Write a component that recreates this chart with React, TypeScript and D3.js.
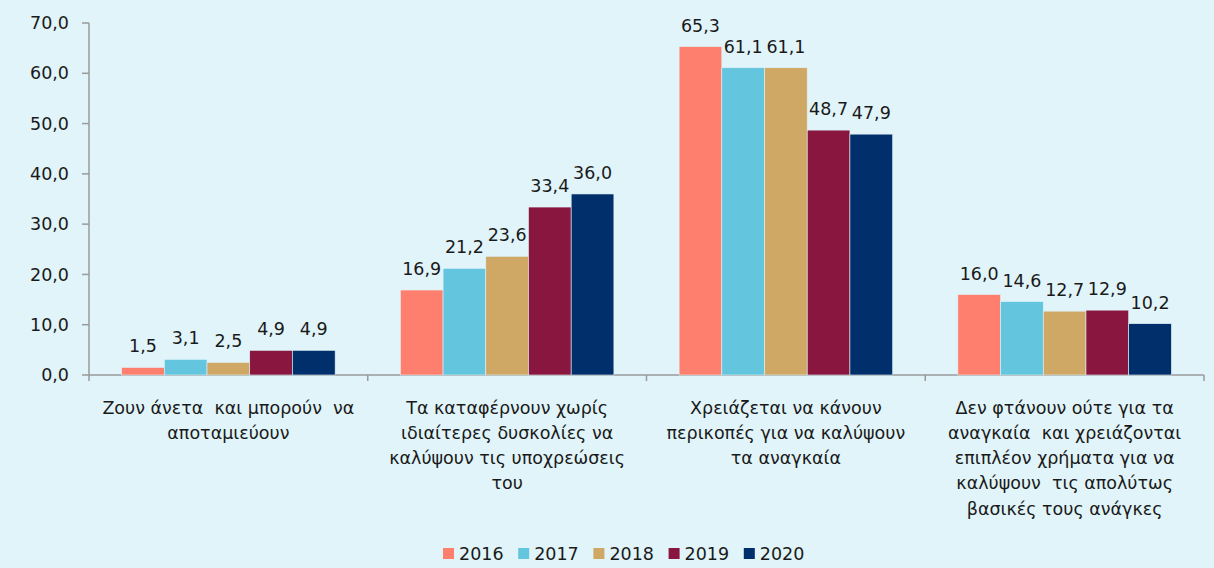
import React from "react";
import * as d3 from "d3";

const categories = [
  "Ζουν άνετα  και μπορούν  να\nαποταμιεύουν",
  "Τα καταφέρνουν χωρίς\nιδιαίτερες δυσκολίες να\nκαλύψουν τις υποχρεώσεις\nτου",
  "Χρειάζεται να κάνουν\nπερικοπές για να καλύψουν\nτα αναγκαία",
  "Δεν φτάνουν ούτε για τα\nαναγκαία  και χρειάζονται\nεπιπλέον χρήματα για να\nκαλύψουν  τις απολύτως\nβασικές τους ανάγκες",
];
const years = ["2016", "2017", "2018", "2019", "2020"];
const v2016 = [1.5, 16.9, 65.3, 16.0];
const v2017 = [3.1, 21.2, 61.1, 14.6];
const v2018 = [2.5, 23.6, 61.1, 12.7];
const v2019 = [4.9, 33.4, 48.7, 12.9];
const v2020 = [4.9, 36.0, 47.9, 10.2];
const series = [v2016, v2017, v2018, v2019, v2020];
const colors = ["#FF7F6F", "#63C6DE", "#CFA866", "#89163F", "#002F6B"];
const yTicks = [0, 10, 20, 30, 40, 50, 60, 70];

const W = 1214, H = 568;
const FONT = "'DejaVu Sans', sans-serif";

export default function App() {
  const left = 89, right = 1204, top = 23, bottom = 375;
  const x0 = d3.scaleBand().domain(categories.map((_, i) => String(i))).range([left, right]).padding(0);
  const bw = x0.bandwidth();
  const inset = bw * 0.117;
  const x1 = d3.scaleBand().domain(years).range([inset, bw - inset]).padding(0);
  const y = d3.scaleLinear().domain([0, 70]).range([bottom, top]);
  const fmt = (v: number) => v.toFixed(1).replace(".", ",");
  const legendX = d3.scaleBand().domain(years).range([443, 819]);

  return (
    <svg width={W} height={H} style={{ position: "absolute", left: 0, top: 0, background: "#E0F4F9" }} fontFamily={FONT}>
      <rect x={0} y={0} width={W} height={H} fill="#E0F4F9" />
      {/* y axis */}
      <line x1={left} x2={left} y1={top} y2={bottom} stroke="#9a9a9a" strokeWidth={1.5} />
      {yTicks.map((t) => (
        <g key={t}>
          <line x1={left - 7} x2={left} y1={y(t)} y2={y(t)} stroke="#9a9a9a" strokeWidth={1.5} />
          <text x={69} y={y(t)} dy="0.35em" textAnchor="end" fontSize={17.5} fill="#1a1a1a">{fmt(t)}</text>
        </g>
      ))}
      {/* x axis */}
      <line x1={left} x2={right} y1={bottom} y2={bottom} stroke="#9a9a9a" strokeWidth={1.5} />
      {d3.range(categories.length + 1).map((i) => {
        const xx = left + i * bw;
        return <line key={i} x1={xx} x2={xx} y1={bottom} y2={bottom + 6} stroke="#9a9a9a" strokeWidth={1.5} />;
      })}
      {/* bars */}
      {categories.map((c, ci) => (
        <g key={ci} transform={`translate(${x0(String(ci))},0)`}>
          {years.map((yr, si) => {
            const v = series[si][ci];
            const bx = x1(yr)!;
            return (
              <g key={yr}>
                <rect x={bx} y={y(v)} width={x1.bandwidth()} height={bottom - y(v)} fill={colors[si]} stroke="#E0F4F9" strokeWidth={0.6} />
                <text x={bx + x1.bandwidth() / 2} y={y(v) - 15} textAnchor="middle" fontSize={17.5} fill="#1a1a1a">{fmt(v)}</text>
              </g>
            );
          })}
          {c.split("\n").map((line, li) => (
            <text key={li} x={bw / 2} y={413.5 + li * 25.3} textAnchor="middle" fontSize={17.5} fill="#1a1a1a" style={{ whiteSpace: "pre" }}>{line}</text>
          ))}
        </g>
      ))}
      {/* legend */}
      {years.map((yr, si) => (
        <g key={yr} transform={`translate(${legendX(yr)},0)`}>
          <rect x={0} y={548} width={11} height={11} fill={colors[si]} />
          <text x={16} y={554} dy="0.35em" fontSize={17.5} fill="#1a1a1a">{yr}</text>
        </g>
      ))}
    </svg>
  );
}
